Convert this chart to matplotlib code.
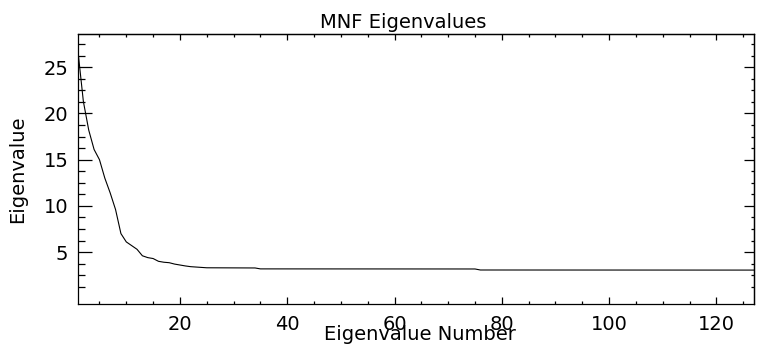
"""
MNF eigenvalue curve, IDL-style plot.
"""
import matplotlib
matplotlib.use('Agg')
import matplotlib.pyplot as plt
from matplotlib.ticker import FixedLocator

# eigenvalue number and value
eig_num = [1, 2, 3, 4, 5, 6, 7, 8, 9, 10, 11, 12, 13, 14, 15, 16, 17, 18, 19, 20,
           21, 22, 23, 24, 25, 34, 35, 75, 76, 127]
eig_val = [26.7, 21.3, 18.2, 16.1, 15.0, 13.0, 11.4, 9.6, 7.0, 6.1, 5.7, 5.3, 4.6,
           4.4, 4.3, 4.0, 3.9, 3.85, 3.7, 3.6, 3.5, 3.42, 3.38, 3.34, 3.3, 3.28,
           3.18, 3.17, 3.06, 3.05]

x_major = [20, 40, 60, 80, 100, 120]
x_minor = [v for v in range(5, 127, 5) if v not in x_major]
y_major = [5, 10, 15, 20, 25]
y_minor = [1.25 * k for k in range(1, 23) if (1.25 * k) not in y_major]

plt.rcParams['font.family'] = ['DejaVu Sans']
plt.rcParams['font.size'] = 14

fig = plt.figure(figsize=(7.6, 3.51), dpi=100)
ax = fig.add_axes([78 / 760, 47 / 351, 676 / 760, 270 / 351])

ax.plot(eig_num, eig_val, color='black', lw=0.8)

ax.set_xlim(1, 127)
ax.set_ylim(-0.62, 28.6)

ax.xaxis.set_major_locator(FixedLocator(x_major))
ax.xaxis.set_minor_locator(FixedLocator(x_minor))
ax.yaxis.set_major_locator(FixedLocator(y_major))
ax.yaxis.set_minor_locator(FixedLocator(y_minor))

ax.tick_params(axis='x', which='major', direction='in', length=5, width=0.9, pad=8)
ax.tick_params(axis='x', which='minor', direction='in', length=2.5, width=0.9)
ax.tick_params(axis='y', which='major', direction='in', length=10, width=0.9, pad=7)
ax.tick_params(axis='y', which='minor', direction='in', length=5, width=0.9)

for sp in ax.spines.values():
    sp.set_linewidth(0.9)

# top and right ticks are shorter than bottom/left ones
top = ax.secondary_xaxis('top')
top.xaxis.set_major_locator(FixedLocator(x_major))
top.xaxis.set_minor_locator(FixedLocator(x_minor))
top.tick_params(which='major', direction='in', length=4.3, width=0.9, labeltop=False)
top.tick_params(which='minor', direction='in', length=2.2, width=0.9)
top.spines['top'].set_linewidth(0.9)

right = ax.secondary_yaxis('right')
right.yaxis.set_major_locator(FixedLocator(y_major))
right.yaxis.set_minor_locator(FixedLocator(y_minor))
right.tick_params(which='major', direction='in', length=7, width=0.9, labelright=False)
right.tick_params(which='minor', direction='in', length=2.2, width=0.9)
right.spines['right'].set_linewidth(0.9)

ax.set_title('MNF Eigenvalues', x=0.481, pad=4.5, fontsize=14)

ax.set_xlabel('Eigenvalue Number')
ax.xaxis.set_label_coords(0.506, -0.133)
ax.xaxis.label.set_va('baseline')

ax.set_ylabel('Eigenvalue')
ax.yaxis.set_label_coords(-0.090, 0.5)
ax.yaxis.label.set_va('center')

fig.savefig('out.png', dpi=100, facecolor='white')
